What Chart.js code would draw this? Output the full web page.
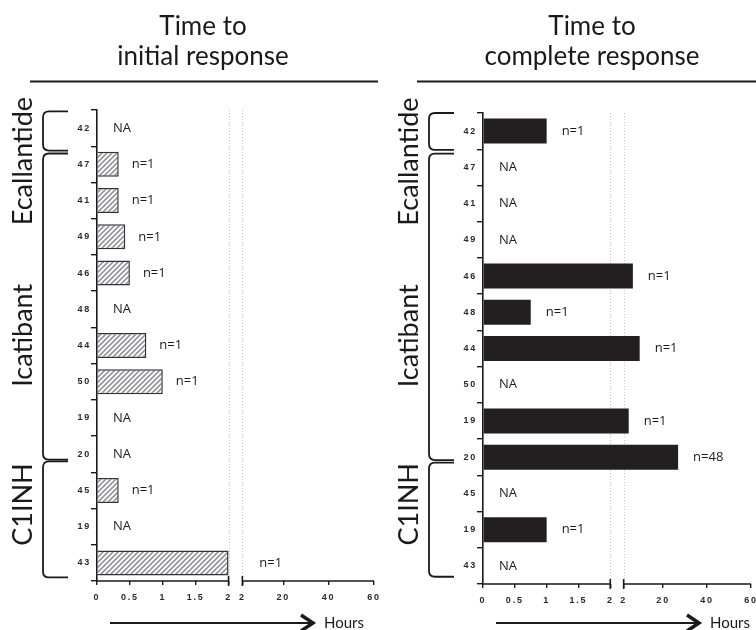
<!DOCTYPE html>
<html>
<head>
<meta charset="utf-8">
<script src="https://cdn.jsdelivr.net/npm/chart.js@4.4.1/dist/chart.umd.min.js"></script>
<style>
  html, body { margin: 0; padding: 0; background: #fff; }
  #wrap { position: relative; width: 756px; height: 630px; }
  #wrap canvas { position: absolute; left: 0; top: 0; }
</style>
</head>
<body>
<div id="wrap">
  <canvas id="chartInitial" width="756" height="630"></canvas>
  <canvas id="chartComplete" width="756" height="630"></canvas>
</div>
<script>
// patient ids, top to bottom
const patients = ["42", "47", "41", "49", "46", "48", "44", "50", "19", "20", "45", "19", "43"];

// hours; null = NA
const initialHours = [null, 0.33, 0.33, 0.43, 0.5, null, 0.75, 1, null, null, 0.33, null, 2];
const initialN = ["", "n=1", "n=1", "n=1", "n=1", "", "n=1", "n=1", "", "", "n=1", "", "n=1"];

const completeHours = [1, null, null, null, 6.2, 0.75, 9.3, null, 4.3, 26.8, null, 1, null];
const completeN = ["n=1", "", "", "", "n=1", "n=1", "n=1", "", "n=1", "n=48", "", "n=1", ""];

// treatment groups: name, first row, last row
const groupNames = ["Ecallantide", "Icatibant", "C1INH"];
const groupFirst = [0, 1, 10];
const groupLast = [0, 9, 12];

// x ticks either side of the axis break
const ticksLow = [0, 0.5, 1, 1.5, 2];
const ticksHigh = [2, 20, 40, 60];

// broken axis: 0-2 h at full scale, then 2-60 h compressed
const BREAK = 2, GAP = 0.21, HIGH_SCALE = 0.0345;
const highPos = (h) => BREAK + GAP + (h - BREAK) * HIGH_SCALE;
const toAxis = (h) => (h <= BREAK ? h : highPos(h));

const tickPos = [...ticksLow, ...ticksHigh.map(highPos)];
const tickText = [...ticksLow, ...ticksHigh].map(String);

const INK = "#1a1a1a";
const TEXT_FONT = "Lato, 'Open Sans', sans-serif";
const TICK_FONT = { family: "'Liberation Sans', Arial, sans-serif", size: 9, weight: "bold" };

function hatchPattern(){
  const c = document.createElement("canvas");
  c.width = 5; c.height = 5;
  const g = c.getContext("2d");
  g.fillStyle = "#fff";
  g.fillRect(0, 0, 5, 5);
  g.strokeStyle = "#96969e";
  g.lineWidth = 1.7;
  g.beginPath();
  g.moveTo(-1, 6); g.lineTo(6, -1);
  g.moveTo(-3.5, 3.5); g.lineTo(3.5, -3.5);
  g.moveTo(1.5, 8.5); g.lineTo(8.5, 1.5);
  g.stroke();
  return g.createPattern(c, "repeat");
}

function drawBrace(ctx, xLine, xArm, top, bottom){
  const r = 6;
  ctx.beginPath();
  ctx.moveTo(xArm, top);
  ctx.lineTo(xLine + r, top);
  ctx.quadraticCurveTo(xLine, top, xLine, top + r);
  ctx.lineTo(xLine, bottom - r);
  ctx.quadraticCurveTo(xLine, bottom, xLine + r, bottom);
  ctx.lineTo(xArm, bottom);
  ctx.stroke();
}

// axis break, value labels, group braces, titles, arrow
const panelDecor = {
  id: "panelDecor",
  beforeDraw(chart){
    // spaced-out digits on the axis ticks
    chart.ctx.letterSpacing = "1.8px";
  },
  beforeDatasetsDraw(chart){
    const ctx = chart.ctx;
    ctx.letterSpacing = "0px";
    const { top, bottom } = chart.chartArea;
    const xs = chart.scales.x;
    ctx.save();
    ctx.strokeStyle = "#c4c4c4";
    ctx.lineWidth = 1;
    ctx.setLineDash([1, 2]);
    for (const v of [BREAK, highPos(BREAK)]){
      const px = Math.round(xs.getPixelForValue(v)) + 0.5;
      ctx.beginPath();
      ctx.moveTo(px, top);
      ctx.lineTo(px, bottom);
      ctx.stroke();
    }
    ctx.restore();
  },
  afterDraw(chart, args, opts){
    const ctx = chart.ctx;
    const { left, right, bottom } = chart.chartArea;
    const xs = chart.scales.x, ys = chart.scales.y;
    const xLo = xs.getPixelForValue(BREAK), xHi = xs.getPixelForValue(highPos(BREAK));
    ctx.save();

    // x axis line in two pieces with break marks
    ctx.strokeStyle = INK;
    ctx.lineWidth = 1.6;
    ctx.beginPath();
    ctx.moveTo(left, bottom); ctx.lineTo(xLo, bottom);
    ctx.moveTo(xHi, bottom); ctx.lineTo(right, bottom);
    ctx.moveTo(xLo, bottom - 5); ctx.lineTo(xLo, bottom + 5);
    ctx.moveTo(xHi, bottom - 5); ctx.lineTo(xHi, bottom + 5);
    ctx.stroke();

    // value labels
    ctx.fillStyle = INK;
    ctx.font = "13px 'Open Sans', sans-serif";
    ctx.textBaseline = "middle";
    ctx.textAlign = "left";
    opts.hours.forEach((h, i) => {
      const y = ys.getPixelForValue(i);
      if (h === null){
        ctx.fillText("NA", left + 16, y);
        return;
      }
      let x = xs.getPixelForValue(toAxis(h)) + opts.labelGap;
      if (h === BREAK) x += (xHi - xLo) + 4;
      ctx.fillText(opts.counts[i], x, y);
    });

    // group braces and rotated names
    ctx.lineWidth = 1.8;
    groupNames.forEach((name, g) => {
      const t = ys.getPixelForValue(groupFirst[g] + opts.braceTop[g]);
      const b = ys.getPixelForValue(groupLast[g] + opts.braceBottom[g]);
      drawBrace(ctx, left - 54, left - 29, t, b);
      const cy = ys.getPixelForValue(opts.nameRow[g]);
      ctx.save();
      ctx.translate(left - 74, cy);
      ctx.rotate(-Math.PI / 2);
      ctx.font = "27px " + TEXT_FONT;
      ctx.textAlign = "center";
      ctx.textBaseline = "middle";
      ctx.fillText(name, 0, 0);
      ctx.restore();
    });

    // panel title with rule underneath
    ctx.font = "26px " + TEXT_FONT;
    ctx.textAlign = "center";
    ctx.textBaseline = "alphabetic";
    ctx.fillText(opts.title[0], opts.titleX, 35);
    ctx.fillText(opts.title[1], opts.titleX, 65);
    ctx.lineWidth = 2;
    ctx.beginPath();
    ctx.moveTo(opts.ruleFrom, 81.5);
    ctx.lineTo(opts.ruleTo, 81.5);
    ctx.stroke();

    // "Hours" arrow
    const ay = 623, a0 = left + 13, a1 = left + 216;
    ctx.lineWidth = 2.2;
    ctx.beginPath();
    ctx.moveTo(a0, ay); ctx.lineTo(a1 - 2, ay);
    ctx.stroke();
    ctx.lineWidth = 3.5;
    ctx.lineJoin = "miter";
    ctx.beginPath();
    ctx.moveTo(a1 - 12, ay - 8); ctx.lineTo(a1, ay); ctx.lineTo(a1 - 12, ay + 8);
    ctx.stroke();
    ctx.font = "15px " + TEXT_FONT;
    ctx.textAlign = "left";
    ctx.textBaseline = "middle";
    ctx.fillText("Hours", left + 227, ay);

    ctx.restore();
  }
};

function makeChart(id, hours, counts, barStyle, panel){
  return new Chart(document.getElementById(id), {
    type: "bar",
    data: {
      labels: patients,
      datasets: [{
        data: hours.map(h => (h === null ? null : toAxis(h))),
        barPercentage: 0.69,
        categoryPercentage: 1,
        ...barStyle
      }]
    },
    options: {
      indexAxis: "y",
      responsive: false,
      animation: false,
      layout: { padding: panel.padding },
      plugins: {
        legend: { display: false },
        tooltip: { enabled: false },
        panelDecor: { hours, counts, ...panel }
      },
      scales: {
        x: {
          type: "linear",
          min: 0,
          max: highPos(60),
          afterBuildTicks: (s) => { s.ticks = tickPos.map(v => ({ value: v })); },
          afterFit: (s) => {
            s.height = 40;
            // let the end labels hang past the plot edge
            s.paddingLeft = 0;
            s.paddingRight = 0;
          },
          ticks: {
            autoSkip: false,
            maxRotation: 0,
            padding: 7,
            color: "#2a2a2a",
            font: TICK_FONT,
            callback: (v, i) => tickText[i]
          },
          grid: { drawOnChartArea: false, tickLength: 4, color: INK, lineWidth: 1.4 },
          border: { display: false }
        },
        y: {
          type: "category",
          offset: true,
          afterFit: (s) => { s.width = 34; },
          ticks: {
            autoSkip: false,
            padding: 0,
            color: "#2a2a2a",
            font: TICK_FONT
          },
          grid: { drawOnChartArea: false, tickLength: 6, color: INK, lineWidth: 1.4 },
          border: { color: INK, width: 1.6 }
        }
      }
    },
    plugins: [panelDecor]
  });
}

makeChart("chartInitial", initialHours, initialN,
  { backgroundColor: hatchPattern(), borderColor: "#333", borderWidth: 1.5 },
  {
    padding: { left: 63, top: 110, right: 382, bottom: 9 },
    labelGap: 13,
    braceTop: [-0.46, -0.3, -0.8],
    braceBottom: [0.62, 0.15, 0.4],
    nameRow: [0.91, 5.72, 10.39],
    title: ["Time to", "initial response"],
    titleX: 203,
    ruleFrom: 30,
    ruleTo: 378
  });

makeChart("chartComplete", completeHours, completeN,
  { backgroundColor: "#231f20", borderWidth: 0 },
  {
    padding: { left: 449, top: 113, right: 5, bottom: 6 },
    labelGap: 15,
    braceTop: [-0.5, -0.38, -0.85],
    braceBottom: [0.52, 0.08, 0.3],
    nameRow: [0.84, 5.65, 10.3],
    title: ["Time to", "complete response"],
    titleX: 592,
    ruleFrom: 417,
    ruleTo: 756
  });
</script>
</body>
</html>
